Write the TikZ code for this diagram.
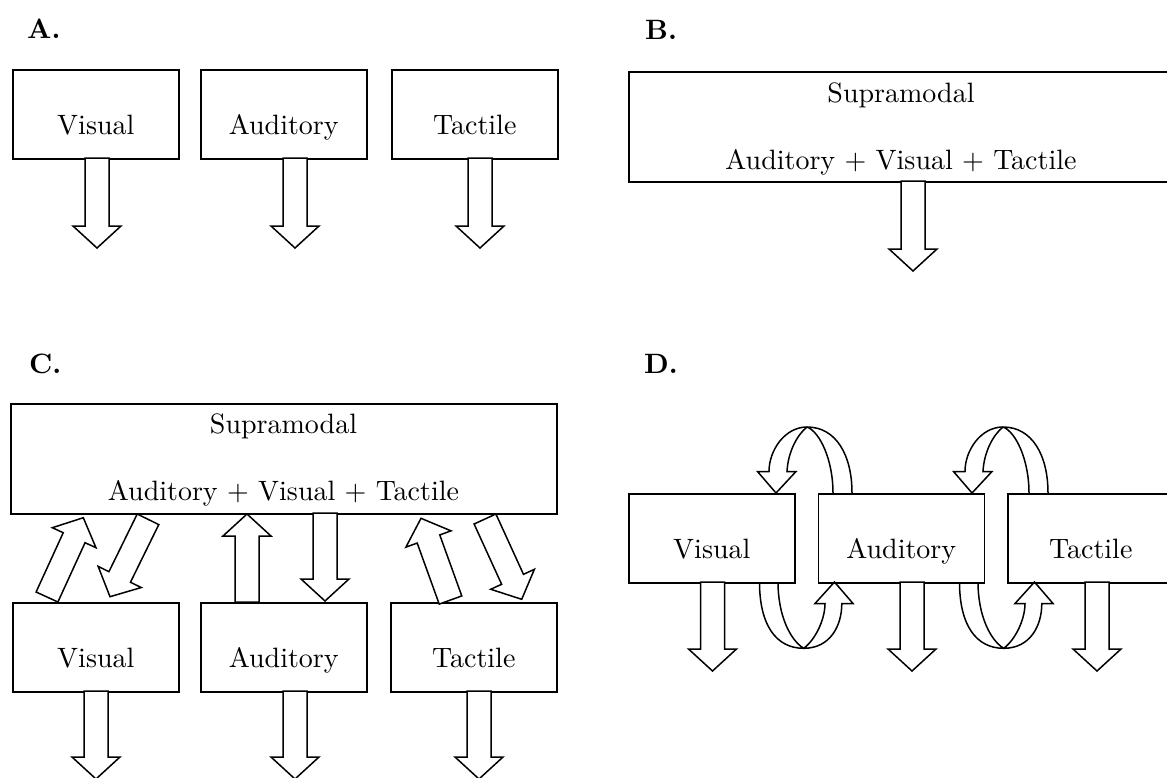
\documentclass[tikz,border=0pt]{standalone}
\usetikzlibrary{calc}
\newcommand\tx[1]{\scalebox{2.8}{#1}}
% block arrow from tail coordinate #1 to tip coordinate #2
\newcommand\blockarr[2]{%
  \coordinate (hb) at ($(#2)!22pt!(#1)$);
  \draw[arrline] ($(#1)!12pt!90:(#2)$) -- ($(hb)!12pt!-90:(#1)$) -- ($(hb)!24pt!-90:(#1)$)
    -- (#2) -- ($(hb)!24pt!90:(#1)$) -- ($(hb)!12pt!90:(#1)$) -- ($(#1)!12pt!-90:(#2)$) -- cycle;}
\begin{document}
\begin{tikzpicture}[x=1pt,y=-1pt,line join=miter,
  box/.style={draw,line width=1.6pt,inner sep=0pt,minimum width=166pt,text height=65pt,text depth=24pt,anchor=north west},
  bigbox/.style={draw,line width=1.6pt,inner sep=0pt,minimum width=546pt,minimum height=110pt,anchor=north west},
  txt/.style={inner sep=0pt,anchor=base},
  lbl/.style={inner sep=0pt,anchor=base west,font=\bfseries},
  arrline/.style={draw,fill=white,line width=1.5pt},
  loopline/.style={line width=1.5pt}]
\useasboundingbox (0,0) rectangle (1167,777);
\clip (0,0) rectangle (1167,777);

% ---------- Panel A ----------
\node[lbl] (labA) at (27,38) {\tx{A.}};
\node[box] (VA) at (12,69) {\tx{Visual}};
\node[box] (AA) at (200,69) {\tx{Auditory}};
\node[box] (TA) at (391,69) {\tx{Tactile}};
\coordinate (VAs) at (97,158);  \coordinate (VAe) at (97,248);
\coordinate (AAs) at (295,158); \coordinate (AAe) at (295,248);
\coordinate (TAs) at (480,158); \coordinate (TAe) at (480,248);
\blockarr{VAs}{VAe}
\blockarr{AAs}{AAe}
\blockarr{TAs}{TAe}

% ---------- Panel B ----------
\node[lbl] (labB) at (645,39) {\tx{B.}};
\node[bigbox] (SB) at (628,71) {};
\node[txt] (SBt1) at (901,102) {\tx{Supramodal}};
\node[txt] (SBt2) at (901,169) {\tx{Auditory + Visual + Tactile}};
\coordinate (SBs) at (913,181); \coordinate (SBe) at (913,271);
\blockarr{SBs}{SBe}

% ---------- Panel C ----------
\node[lbl] (labC) at (29,373) {\tx{C.}};
\node[bigbox] (SC) at (10,403) {};
\node[txt] (SCt1) at (283.5,433) {\tx{Supramodal}};
\node[txt] (SCt2) at (283.5,500) {\tx{Auditory + Visual + Tactile}};
\node[box] (VC) at (12,602) {\tx{Visual}};
\node[box] (AC) at (200,602) {\tx{Auditory}};
\node[box] (TC) at (390,602) {\tx{Tactile}};
% slanted / vertical arrows between supramodal and unimodal boxes
\coordinate (VCu1) at (47,597);    \coordinate (VCu2) at (83.3,517.7);
\coordinate (VCd1) at (148,519.3); \coordinate (VCd2) at (110,596.7);
\coordinate (ACu1) at (247,602);   \coordinate (ACu2) at (247,514);
\coordinate (ACd1) at (325,513);   \coordinate (ACd2) at (325,601);
\coordinate (TCu1) at (450.5,600); \coordinate (TCu2) at (421,518.3);
\coordinate (TCd1) at (485,519);   \coordinate (TCd2) at (521.7,599.3);
\blockarr{VCu1}{VCu2}
\blockarr{VCd1}{VCd2}
\blockarr{ACu1}{ACu2}
\blockarr{ACd1}{ACd2}
\blockarr{TCu1}{TCu2}
\blockarr{TCd1}{TCd2}
% output arrows
\coordinate (VCs) at (96,691);  \coordinate (VCe) at (96,779);
\coordinate (ACs) at (295,691); \coordinate (ACe) at (295,779);
\coordinate (TCs) at (479,691); \coordinate (TCe) at (479,779);
\blockarr{VCs}{VCe}
\blockarr{ACs}{ACe}
\blockarr{TCs}{TCe}

% ---------- Panel D ----------
\node[lbl] (labD) at (644,373) {\tx{D.}};
\node[box] (VD) at (628,493) {\tx{Visual}};
\node[box] (AD) at (817.5,493) {\tx{Auditory}};
\node[box] (TD) at (1007,493) {\tx{Tactile}};
\coordinate (VDs) at (712.5,582); \coordinate (VDe) at (712.5,671);
\coordinate (ADs) at (912,582);   \coordinate (ADe) at (912,671);
\coordinate (TDs) at (1097,582);  \coordinate (TDe) at (1097,671);
\blockarr{VDs}{VDe}
\blockarr{ADs}{ADe}
\blockarr{TDs}{TDe}
% twisted loop arrows
\foreach \dx/\ex in {0/0,196/200}{
  \begin{scope}[xshift=\dx pt]
    \draw[loopline] (852,493) .. controls (852,455) and (836,427) .. (807,427)
      .. controls (785,427) and (769,450) .. (769,471.5) -- (757.5,471.5) -- (776,493)
      -- (796,471.5) -- (787,471.5) .. controls (788,452) and (797,435) .. (807,427)
      .. controls (820,432) and (833,460) .. (833,493);
  \end{scope}
  \begin{scope}[xshift=\ex pt]
    \draw[loopline] (759.5,582) .. controls (759.5,625) and (776,648.3) .. (803.7,648.3)
      .. controls (830,648.3) and (841.8,626) .. (841.8,603.5) -- (853,603.5) -- (834.5,582)
      -- (815,603.5) -- (825,603.5) .. controls (825,620) and (815,640) .. (803.7,648.3)
      .. controls (790,640) and (778,615) .. (778,582);
  \end{scope}
}
\end{tikzpicture}
\end{document}
